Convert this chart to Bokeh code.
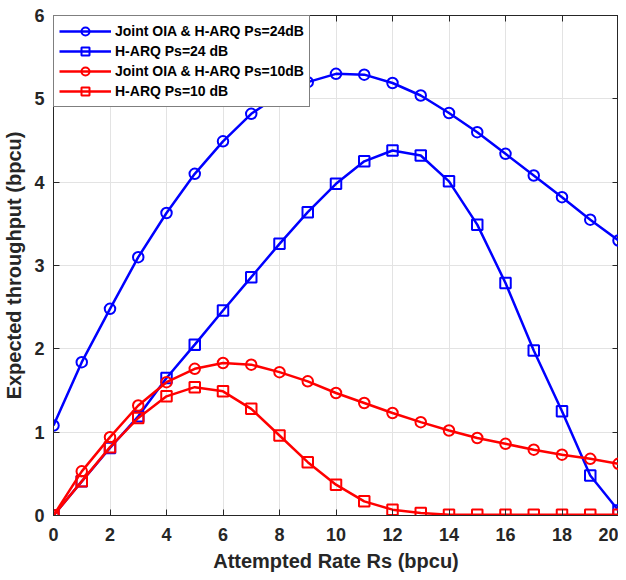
from bokeh.plotting import figure
from bokeh.models import LinearAxis, Legend, LegendItem, Range1d, FixedTicker
from bokeh.embed import file_html
from bokeh.resources import INLINE

rates = list(range(0, 21))
joint_24 = [1.08, 1.84, 2.48, 3.10, 3.63, 4.10, 4.49, 4.82, 5.05, 5.20, 5.30,
            5.29, 5.19, 5.04, 4.83, 4.60, 4.34, 4.08, 3.82, 3.55, 3.30]
harq_24 = [0.0, 0.41, 0.81, 1.19, 1.65, 2.05, 2.46, 2.86, 3.26, 3.64, 3.98,
           4.25, 4.38, 4.32, 4.01, 3.49, 2.79, 1.98, 1.25, 0.48, 0.06]
joint_10 = [0.0, 0.53, 0.94, 1.32, 1.60, 1.76, 1.83, 1.81, 1.72, 1.61, 1.47,
            1.35, 1.23, 1.12, 1.02, 0.93, 0.86, 0.79, 0.73, 0.68, 0.62]
harq_10 = [0.0, 0.41, 0.82, 1.17, 1.43, 1.54, 1.49, 1.28, 0.96, 0.64, 0.37,
           0.17, 0.07, 0.03, 0.01, 0.01, 0.01, 0.01, 0.01, 0.01, 0.01]
x_ticks = list(range(0, 21, 2))
y_ticks = list(range(0, 7))

FONT = "Liberation Sans"
TXT = "#262626"

p = figure(width=618, height=574, output_backend="svg", toolbar_location=None,
           x_range=Range1d(0, 20), y_range=Range1d(0, 6),
           min_border_left=52, min_border_right=0, min_border_top=15, min_border_bottom=56)
p.outline_line_color = TXT
p.outline_line_width = 1

for ax in (p.xaxis[0], p.yaxis[0]):
    ax.major_label_text_font = FONT
    ax.major_label_text_font_style = "bold"
    ax.major_label_text_font_size = "18px"
    ax.major_label_text_color = TXT
    ax.axis_label_text_font = FONT
    ax.axis_label_text_font_style = "bold"
    ax.axis_label_text_font_size = "20px"
    ax.axis_label_text_color = TXT
    ax.axis_line_color = TXT
    ax.major_tick_line_color = TXT
    ax.major_tick_in = 6
    ax.major_tick_out = 0
    ax.minor_tick_line_color = None

p.xaxis[0].ticker = FixedTicker(ticks=x_ticks)
p.yaxis[0].ticker = FixedTicker(ticks=y_ticks)
p.xaxis[0].axis_label = "Attempted Rate Rs (bpcu)"
p.yaxis[0].axis_label = "Expected throughput (bpcu)"
p.xaxis[0].major_label_standoff = 12
p.yaxis[0].major_label_standoff = 9
p.xaxis[0].axis_label_standoff = 6
p.yaxis[0].axis_label_standoff = 6

for loc, ticks in (("right", y_ticks), ("above", x_ticks)):
    ax = LinearAxis(ticker=FixedTicker(ticks=ticks))
    ax.major_label_text_font_size = "0px"
    ax.major_label_text_color = None
    ax.axis_line_color = TXT
    ax.major_tick_line_color = TXT
    ax.major_tick_in = 6
    ax.major_tick_out = 0
    ax.minor_tick_line_color = None
    ax.major_label_standoff = 0
    p.add_layout(ax, loc)

p.xgrid.ticker = FixedTicker(ticks=x_ticks)
p.ygrid.ticker = FixedTicker(ticks=y_ticks)
p.grid.grid_line_color = "#e3e3e3"
p.grid.grid_line_width = 1

series = [
    ("Joint OIA & H-ARQ Ps=24dB", joint_24, "#0000ff", "circle"),
    ("H-ARQ Ps=24 dB", harq_24, "#0000ff", "square"),
    ("Joint OIA & H-ARQ Ps=10dB", joint_10, "#ff0000", "circle"),
    ("H-ARQ Ps=10 dB", harq_10, "#ff0000", "square"),
]
items = []
for label, ys, col, mk in series:
    l = p.line(rates, ys, line_color=col, line_width=2.5)
    s = p.scatter(rates, ys, marker=mk, size=10.5, fill_color=None,
                  line_color=col, line_width=2)
    items.append(LegendItem(label=label, renderers=[l, s]))

legend = Legend(items=items, location="top_left")
legend.label_text_font = FONT
legend.label_text_font_style = "bold"
legend.label_text_font_size = "14px"
legend.label_text_color = "#000000"
legend.border_line_color = "#000000"
legend.border_line_width = 1
legend.background_fill_alpha = 1
legend.margin = 0
legend.padding = 5
legend.spacing = 0
legend.glyph_width = 52
legend.glyph_height = 20
legend.label_height = 20
legend.label_standoff = 4
p.add_layout(legend, "center")

open("out.html", "w").write(file_html(p, INLINE))
